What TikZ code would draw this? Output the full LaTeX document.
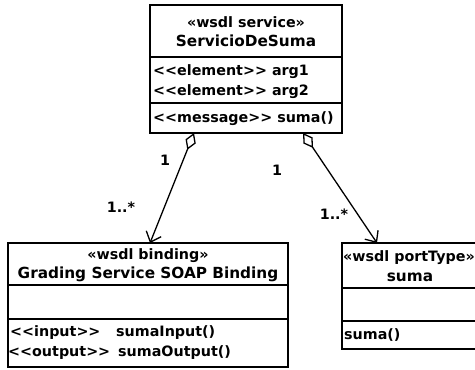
\documentclass[tikz,border=0pt]{standalone}
\usepackage{fontspec}
\setmainfont{DejaVu Sans}
\usetikzlibrary{arrows.meta}
\begin{document}
\begin{tikzpicture}[x=1pt,y=-1pt,
  classbox/.style={draw=black, line width=1.6pt, anchor=north west, inner sep=0pt, outer sep=0pt},
  sepline/.style={line width=1.6pt},
  txt/.style={font=\fontsize{14.3}{17}\selectfont\bfseries, inner sep=0pt, anchor=base west},
  ttl/.style={font=\fontsize{14.3}{17}\selectfont\bfseries, inner sep=0pt, anchor=base},
  cname/.style={font=\fontsize{15.3}{18}\selectfont\bfseries, inner sep=0pt, anchor=base},
  mult/.style={font=\fontsize{14.3}{17}\selectfont\bfseries, inner sep=0pt},
  assoc/.style={line width=1.3pt,
    {Diamond[open,length=18pt,width=11pt,line width=1.3pt]}-{Straight Barb[length=9pt,width=16pt,line width=1.3pt]}}
]
\useasboundingbox (0,0) rectangle (475,370);
\clip (0,0) rectangle (475,370);
\fill[white] (0,0) rectangle (475,370);

% service class
\node[classbox, minimum width=192pt, minimum height=128pt] (srv) at (150,5) {};
\draw[sepline] (srv.west |- 0,57) -- (srv.east |- 0,57);
\draw[sepline] (srv.west |- 0,103) -- (srv.east |- 0,103);
\node[ttl]   (srvst)  at (246,27)   {«wsdl service»};
\node[cname] (srvnm)  at (246,46.5) {ServicioDeSuma};
\node[txt]   (srva1)  at (153,75)   {<{}<element>{}> arg1};
\node[txt]   (srva2)  at (153,95)   {<{}<element>{}> arg2};
\node[txt]   (srvop)  at (153,122)  {<{}<message>{}> suma()};

% binding class
\node[classbox, minimum width=280pt, minimum height=124pt] (bind) at (8,243) {};
\draw[sepline] (bind.west |- 0,285) -- (bind.east |- 0,285);
\draw[sepline] (bind.west |- 0,319) -- (bind.east |- 0,319);
\node[ttl]   (bindst) at (148,259)   {«wsdl binding»};
\node[cname] (bindnm) at (148,278.5) {Grading Service SOAP Binding};
\node[txt]   (bindi)  at (10,336)    {<{}<input>{}>};
\node[txt]   (bindim) at (116,336)   {sumaInput()};
\node[txt]   (bindo)  at (8,356)     {<{}<output>{}>};
\node[txt]   (bindom) at (118,356)   {sumaOutput()};

% port type class
\node[classbox, minimum width=140pt, minimum height=106pt] (port) at (342,243) {};
\draw[sepline] (port.west |- 0,288) -- (port.east |- 0,288);
\draw[sepline] (port.west |- 0,321) -- (port.east |- 0,321);
\node[ttl]   (portst) at (409,261)   {«wsdl portType»};
\node[cname] (portnm) at (410,281.5) {suma};
\node[txt]   (portop) at (344,339)   {suma()};

% aggregations
\draw[assoc] ([xshift=-52pt]srv.south) -- ([xshift=2pt]bind.north);
\draw[assoc] ([xshift=57pt]srv.south) -- ([xshift=-35pt]port.north);

% multiplicities
\node[mult] (m1) at (165,160) {1};
\node[mult] (m2) at (277,170) {1};
\node[mult] (m3) at (121,207) {1..*};
\node[mult] (m4) at (334,214) {1..*};
\end{tikzpicture}
\end{document}
